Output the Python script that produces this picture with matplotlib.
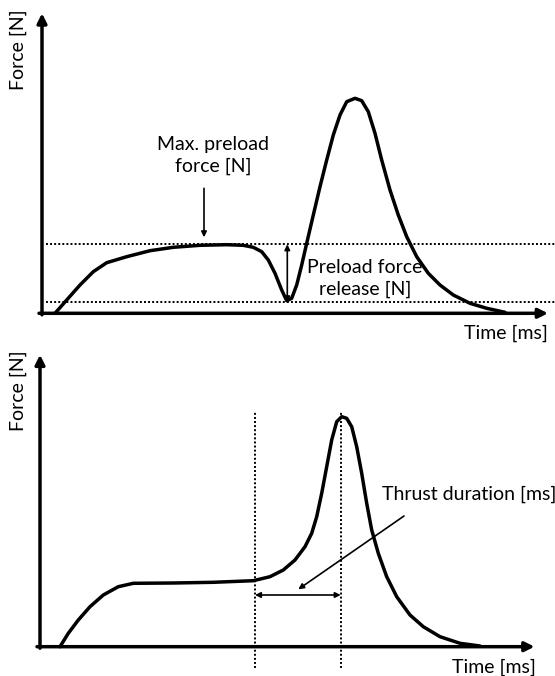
import matplotlib
matplotlib.use("Agg")
import matplotlib.pyplot as plt

plt.rcParams['font.family'] = ['Lato', 'DejaVu Sans']

# ---- data (arbitrary units read from the schematic) ----
top_time = [13, 24.7, 38, 51.3, 64.7, 84.7, 108, 131.3, 158, 184.7, 201.3, 211.3, 219.7, 226.3,
            233, 239.7, 244.7, 249.7, 254.7, 259.7, 264.7, 271.3, 278, 284.7, 291.3, 298,
            304.7, 313, 319.7, 326.3, 333, 339.7, 348, 356.3, 364.7, 374.7, 386.3, 398,
            411.3, 428, 444.7, 463]
top_force = [0, 13.3, 28.3, 41.6, 50.6, 56.6, 62.6, 66, 68, 68.6, 68, 66, 61.6, 53.3,
             40, 23.3, 12.6, 15, 28.3, 48.3, 70, 98.3, 126.6, 153.3, 178.3, 198.3,
             211.6, 215, 212.6, 201.6, 180, 153.3, 123.3, 98.3, 76.6, 56.6, 40, 28.3,
             18.3, 10, 5, 1]
top_max_preload = 69
top_min_release = 11

bot_time = [20, 28.3, 38.3, 50, 63.3, 78.3, 93.3, 133.3, 173.3, 213.3, 230, 243.3, 255, 265,
            271.7, 276.7, 281.7, 286.7, 291.7, 296.7, 301.7, 306.7, 311.7, 316.7, 321.7,
            326.7, 331.7, 338.3, 346.7, 356.7, 370, 383.3, 400, 420, 440]
bot_force = [0, 13.4, 26.7, 40, 51.7, 60, 63.4, 63.7, 64.4, 66, 70, 76.7, 86.7, 100,
             113.4, 130, 153.4, 180, 206.7, 225, 230, 228.4, 220, 200, 173.4,
             143.4, 116.7, 93.4, 70, 50, 31.7, 20, 10, 3.4, 0.7]
thrust_start = 215
thrust_peak = 300.7

xlabel = "Time [ms]"
ylabel = "Force [N]"
txt_max = "Max. preload\nforce [N]"
txt_rel = "Preload force\nrelease [N]"
txt_thrust = "Thrust duration [ms]"

W, H = 555, 676
fig = plt.figure(figsize=(W / 100, H / 100), dpi=100)
fig.patch.set_facecolor('white')

FS = 14
LW = 2.5
axis_kw = dict(arrowstyle='-|>', lw=LW, color='black', mutation_scale=14, shrinkA=0, shrinkB=0)
thin1 = dict(arrowstyle='-|>', lw=1.2, color='black', mutation_scale=8, shrinkA=0, shrinkB=0)
thin2 = dict(arrowstyle='<|-|>', lw=1.2, color='black', mutation_scale=8, shrinkA=0, shrinkB=0)
dot_kw = dict(color='black', lw=1.4, dashes=(1, 1.1))
curve_kw = dict(color='black', lw=LW, solid_joinstyle='round', solid_capstyle='round')

# ---- top panel: axes spanning pixel rows 0..330 ----
ax1 = fig.add_axes([0, 1 - 330 / H, 1, 330 / H])
ax1.set_xlim(-42, W - 42)
ax1.set_ylim(313.3 - 330, 313.3)
ax1.axis('off')
ax1.annotate('', xy=(0, 300), xytext=(0, -1.5), arrowprops=axis_kw)
ax1.annotate('', xy=(506, 0), xytext=(-3, 0), arrowprops=axis_kw)
ax1.plot(top_time, top_force, **curve_kw)
ax1.plot([4, 513], [top_max_preload, top_max_preload], **dot_kw)
ax1.plot([4, 513], [top_min_release, top_min_release], **dot_kw)
ax1.annotate('', xy=(245.3, top_min_release), xytext=(245.3, top_max_preload), arrowprops=thin2)
ax1.annotate('', xy=(162, 76), xytext=(162, 125), arrowprops=thin1)
ax1.text(171.3, 158, txt_max, ha='center', va='center', fontsize=FS, linespacing=1.3)
ax1.text(323, 35, txt_rel, ha='center', va='center', fontsize=FS, linespacing=1.3)
ax1.text(506, -20, xlabel, ha='right', va='center', fontsize=FS)
ax1.text(-23.5, 263.5, ylabel, ha='center', va='center', rotation=90, fontsize=FS)

# ---- bottom panel: axes spanning pixel rows 330..676 ----
ax2 = fig.add_axes([0, 0, 1, 346 / H])
ax2.set_xlim(-40, W - 40)
ax2.set_ylim(646.7 - 676, 646.7 - 330)
ax2.axis('off')
ax2.annotate('', xy=(0, 292), xytext=(0, -1.5), arrowprops=axis_kw)
ax2.annotate('', xy=(494.5, 0), xytext=(-3, 0), arrowprops=axis_kw)
ax2.plot(bot_time, bot_force, **curve_kw)
for tx in (thrust_start, thrust_peak):
    ax2.plot([tx, tx], [-21, 235], **dot_kw)
ax2.annotate('', xy=(thrust_peak, 51.7), xytext=(thrust_start, 51.7), arrowprops=thin2)
ax2.annotate('', xy=(258.3, 57.4), xytext=(364, 130.7), arrowprops=thin1)
ax2.text(429, 152, txt_thrust, ha='center', va='center', fontsize=FS)
ax2.text(496, -21, xlabel, ha='right', va='center', fontsize=FS)
ax2.text(-21.6, 256, ylabel, ha='center', va='center', rotation=90, fontsize=FS)

fig.savefig('out.png', dpi=100, facecolor='white')
